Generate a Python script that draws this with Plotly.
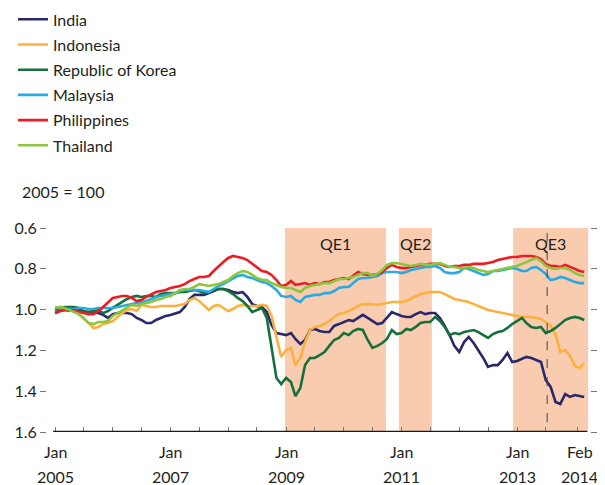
import plotly.graph_objects as go
import pandas as pd

dates = pd.date_range("2005-01-01", "2014-03-01", freq="MS")

india = [1.017, 1.007, 1.002, 0.997, 0.992, 1.002, 1.012, 1.012, 1.012, 1.017,
         1.026, 1.041, 1.022, 1.017, 1.017, 1.017, 1.022, 1.041, 1.051, 1.066,
         1.066, 1.051, 1.041, 1.031, 1.026, 1.017, 1.012, 0.987, 0.948, 0.928,
         0.928, 0.928, 0.919, 0.909, 0.899, 0.899, 0.904, 0.914, 0.919, 0.914,
         0.938, 0.973, 0.982, 0.987, 1.012, 1.075, 1.115, 1.120, 1.125, 1.115,
         1.144, 1.169, 1.149, 1.100, 1.095, 1.105, 1.110, 1.110, 1.080, 1.071,
         1.061, 1.051, 1.056, 1.041, 1.026, 1.041, 1.056, 1.071, 1.066, 1.041,
         1.012, 1.022, 1.031, 1.036, 1.036, 1.022, 1.012, 1.022, 1.017, 1.017,
         1.041, 1.080, 1.125, 1.178, 1.208, 1.159, 1.134, 1.164, 1.198, 1.237,
         1.281, 1.272, 1.272, 1.247, 1.213, 1.257, 1.252, 1.242, 1.232, 1.237,
         1.247, 1.257, 1.345, 1.379, 1.453, 1.463, 1.414, 1.428, 1.419, 1.424, 1.428]

indonesia = [0.987, 0.992, 0.997, 1.002, 1.002, 1.022, 1.046, 1.066, 1.090, 1.085,
             1.071, 1.066, 1.056, 1.036, 1.017, 1.002, 0.997, 1.007, 0.977, 0.982,
             0.987, 0.987, 0.982, 0.982, 0.982, 0.982, 0.977, 0.973, 0.953, 0.943,
             0.958, 0.982, 1.002, 0.982, 0.977, 0.992, 1.007, 0.997, 0.982, 0.977,
             0.982, 0.982, 0.982, 0.977, 0.982, 1.031, 1.140, 1.232, 1.198, 1.188,
             1.272, 1.237, 1.159, 1.100, 1.085, 1.080, 1.071, 1.056, 1.036, 1.022,
             1.017, 1.007, 0.997, 0.982, 0.973, 0.973, 0.973, 0.977, 0.973, 0.968,
             0.963, 0.963, 0.963, 0.958, 0.948, 0.933, 0.924, 0.919, 0.914, 0.914,
             0.914, 0.924, 0.938, 0.948, 0.953, 0.958, 0.963, 0.973, 0.982, 0.992,
             1.002, 1.007, 1.012, 1.017, 1.022, 1.026, 1.031, 1.036, 1.036, 1.036,
             1.041, 1.046, 1.061, 1.080, 1.120, 1.208, 1.198, 1.227, 1.276, 1.286, 1.262]

korea = [1.002, 0.992, 0.987, 0.987, 0.987, 0.992, 1.007, 1.012, 1.007, 1.002,
         1.017, 1.007, 0.992, 0.977, 0.963, 0.948, 0.938, 0.933, 0.938, 0.933,
         0.933, 0.938, 0.924, 0.919, 0.919, 0.919, 0.914, 0.914, 0.909, 0.904,
         0.909, 0.919, 0.914, 0.904, 0.899, 0.899, 0.909, 0.924, 0.943, 0.958,
         0.982, 1.012, 1.002, 0.992, 1.041, 1.198, 1.335, 1.365, 1.335, 1.355,
         1.424, 1.384, 1.272, 1.237, 1.237, 1.223, 1.208, 1.178, 1.149, 1.139,
         1.115, 1.125, 1.105, 1.095, 1.100, 1.149, 1.188, 1.178, 1.164, 1.144,
         1.100, 1.120, 1.115, 1.095, 1.100, 1.085, 1.066, 1.061, 1.061, 1.036,
         1.056, 1.085, 1.125, 1.115, 1.120, 1.110, 1.105, 1.100, 1.110, 1.125,
         1.139, 1.120, 1.110, 1.105, 1.090, 1.071, 1.056, 1.041, 1.066, 1.085,
         1.090, 1.085, 1.115, 1.105, 1.090, 1.071, 1.051, 1.041, 1.036, 1.041, 1.051]

malaysia = [0.992, 0.992, 0.997, 0.997, 0.997, 0.992, 0.992, 0.997, 0.997, 0.992,
            0.992, 0.992, 0.992, 0.987, 0.982, 0.977, 0.973, 0.968, 0.963, 0.958,
            0.948, 0.938, 0.933, 0.928, 0.924, 0.919, 0.909, 0.904, 0.904, 0.904,
            0.904, 0.909, 0.914, 0.899, 0.884, 0.875, 0.860, 0.845, 0.835, 0.830,
            0.840, 0.845, 0.855, 0.865, 0.870, 0.884, 0.904, 0.933, 0.938, 0.933,
            0.953, 0.963, 0.938, 0.933, 0.928, 0.928, 0.919, 0.919, 0.909, 0.894,
            0.889, 0.889, 0.870, 0.850, 0.845, 0.845, 0.840, 0.835, 0.821, 0.816,
            0.816, 0.816, 0.821, 0.816, 0.806, 0.801, 0.796, 0.791, 0.791, 0.786,
            0.796, 0.816, 0.821, 0.821, 0.816, 0.796, 0.801, 0.811, 0.821, 0.830,
            0.825, 0.811, 0.811, 0.806, 0.801, 0.796, 0.801, 0.811, 0.811, 0.796,
            0.791, 0.806, 0.825, 0.855, 0.850, 0.840, 0.845, 0.855, 0.865, 0.870, 0.870]

philippines = [1.017, 1.007, 1.002, 1.007, 1.002, 1.012, 1.017, 1.022, 1.022, 1.007,
               0.987, 0.963, 0.943, 0.938, 0.933, 0.933, 0.943, 0.958, 0.953, 0.938,
               0.924, 0.914, 0.909, 0.904, 0.894, 0.889, 0.884, 0.875, 0.860, 0.850,
               0.840, 0.840, 0.835, 0.811, 0.786, 0.767, 0.747, 0.737, 0.742, 0.747,
               0.757, 0.776, 0.796, 0.811, 0.816, 0.830, 0.855, 0.884, 0.879, 0.860,
               0.879, 0.875, 0.870, 0.879, 0.870, 0.875, 0.865, 0.865, 0.855, 0.850,
               0.845, 0.850, 0.835, 0.816, 0.825, 0.830, 0.830, 0.825, 0.816, 0.796,
               0.781, 0.791, 0.796, 0.796, 0.791, 0.786, 0.781, 0.781, 0.776, 0.776,
               0.776, 0.786, 0.791, 0.786, 0.786, 0.781, 0.781, 0.776, 0.776, 0.776,
               0.772, 0.767, 0.757, 0.752, 0.747, 0.742, 0.742, 0.737, 0.737, 0.737,
               0.742, 0.752, 0.776, 0.786, 0.786, 0.791, 0.781, 0.791, 0.801, 0.811, 0.816]

thailand = [0.992, 0.987, 0.992, 1.002, 1.012, 1.022, 1.041, 1.066, 1.071, 1.061,
            1.061, 1.056, 1.031, 1.017, 1.002, 0.992, 0.977, 0.982, 0.973, 0.968,
            0.963, 0.953, 0.948, 0.938, 0.933, 0.919, 0.904, 0.899, 0.899, 0.889,
            0.875, 0.879, 0.884, 0.879, 0.875, 0.865, 0.855, 0.835, 0.821, 0.811,
            0.816, 0.830, 0.845, 0.855, 0.855, 0.870, 0.879, 0.889, 0.894, 0.894,
            0.904, 0.914, 0.894, 0.884, 0.879, 0.875, 0.870, 0.870, 0.860, 0.850,
            0.850, 0.845, 0.840, 0.830, 0.821, 0.821, 0.835, 0.825, 0.806, 0.781,
            0.772, 0.772, 0.776, 0.781, 0.786, 0.781, 0.776, 0.781, 0.781, 0.776,
            0.772, 0.781, 0.791, 0.791, 0.796, 0.796, 0.791, 0.796, 0.806, 0.811,
            0.816, 0.811, 0.806, 0.801, 0.796, 0.791, 0.786, 0.776, 0.767, 0.757,
            0.747, 0.762, 0.786, 0.796, 0.801, 0.796, 0.796, 0.806, 0.821, 0.830, 0.835]

series_names = ["India", "Indonesia", "Republic of Korea", "Malaysia", "Philippines", "Thailand"]
series_values = [india, indonesia, korea, malaysia, philippines, thailand]
series_colors = ["#29286B", "#FBB040", "#17703A", "#29ABE2", "#ED1C24", "#8CC63F"]

qe_labels = ["QE1", "QE2", "QE3"]
qe_starts = ["2008-12-25", "2010-12-15", "2012-12-07"]
qe_ends = ["2010-09-25", "2011-07-12", "2014-03-26"]

tick_dates = ["2005-01-01", "2007-01-01", "2009-01-01", "2011-01-01", "2013-01-01", "2014-02-01"]
tick_top = ["Jan", "Jan", "Jan", "Jan", "Jan", "Feb"]
tick_bottom = ["2005", "2007", "2009", "2011", "2013", "2014"]
minor_ticks = [f"{y}-{m:02d}-01" for y in range(2005, 2014) for m in (1, 7)] + ["2014-01-15"]

y_ticks = [0.6, 0.8, 1.0, 1.2, 1.4, 1.6]
taper_date = "2013-07-10"

FONT = "Lato, 'Open Sans', sans-serif"
TXT = "#231F20"

fig = go.Figure()
for name, vals, col in zip(series_names, series_values, series_colors):
    fig.add_trace(go.Scatter(x=dates, y=vals, name=name, mode="lines",
                             line=dict(color=col, width=2.6), legendgroup=name))

shapes = []
for s, e in zip(qe_starts, qe_ends):
    shapes.append(dict(type="rect", xref="x", yref="y", x0=s, x1=e, y0=0.6, y1=1.6,
                       fillcolor="#F9CBAF", line=dict(width=0), layer="below"))
shapes.append(dict(type="line", xref="x", yref="y", x0=taper_date, x1=taper_date,
                   y0=0.625, y1=1.6, line=dict(color="#444444", width=1, dash="dash")))
shapes.append(dict(type="line", xref="x", yref="y", x0="2004-12-20", x1="2014-03-20",
                   y0=1.6, y1=1.6, line=dict(color="#1a1a1a", width=2.5)))
fig.update_layout(shapes=shapes)

ann = []
for lab, s, e in zip(qe_labels, qe_starts, qe_ends):
    mid = pd.Timestamp(s) + (pd.Timestamp(e) - pd.Timestamp(s)) / 2
    ann.append(dict(x=mid, y=0.6, xref="x", yref="y", text=lab, showarrow=False,
                    yanchor="top", yshift=-4, font=dict(size=16, color=TXT, family=FONT)))
for d, t, b in zip(tick_dates, tick_top, tick_bottom):
    ann.append(dict(x=d, y=0, xref="x", yref="paper", text=t, showarrow=False,
                    yanchor="middle", yshift=-19,
                    font=dict(size=16, color=TXT, family=FONT)))
    ann.append(dict(x=d, y=0, xref="x", yref="paper", text=b, showarrow=False,
                    yanchor="middle", yshift=-44,
                    font=dict(size=16, color=TXT, family=FONT)))
ann.append(dict(x=-0.0497, y=1.181, xref="paper", yref="paper", text="2005 = 100",
                showarrow=False, xanchor="left", yanchor="middle",
                font=dict(size=16, color=TXT, family=FONT)))
fig.update_layout(annotations=ann)

# the page body adds an 8px offset, so the figure is sized 8px smaller
fig.update_layout(
    width=597, height=477,
    margin=dict(l=39, r=15, t=220, b=53, autoexpand=False),
    paper_bgcolor="white", plot_bgcolor="white",
    font=dict(family=FONT, color=TXT, size=16),
    legend=dict(x=-0.0626, y=2.106, xanchor="left", yanchor="top",
                font=dict(size=16, color=TXT, family=FONT),
                tracegroupgap=1.4, bgcolor="rgba(0,0,0,0)"),
    xaxis=dict(type="date", range=["2004-11-11", "2014-04-07"], showgrid=False,
               zeroline=False, showline=False, tickmode="array", tickvals=minor_ticks,
               ticks="inside", ticklen=5, tickcolor="#777777", showticklabels=False),
    yaxis=dict(range=[1.6, 0.6], tickmode="array", tickvals=y_ticks, tickformat=".1f",
               ticks="outside", ticklen=6, tickcolor="#777777", mirror="ticks",
               showgrid=False, zeroline=False, showline=False,
               tickfont=dict(size=16, color=TXT, family=FONT)),
)

fig.write_html("out.html")
